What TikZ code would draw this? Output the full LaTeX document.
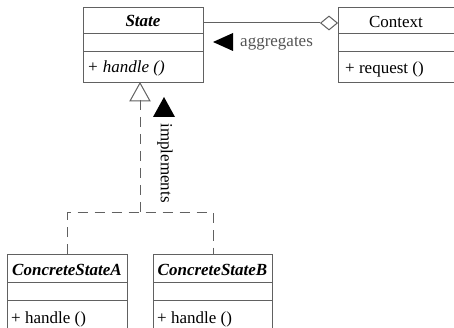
\documentclass[tikz,border=0pt]{standalone}
\usepackage{fontspec}
\setmainfont{Liberation Serif}
\usetikzlibrary{shapes.geometric}
\definecolor{linecol}{gray}{0.38}
\definecolor{labelcol}{gray}{0.33}
\begin{document}
\begin{tikzpicture}[x=1pt,y=-1pt,
  umlfont/.style={font=\fontsize{17}{20}\selectfont},
  classbox/.style={draw=linecol, line width=1pt, anchor=north west, inner sep=0pt,
    minimum width=120pt},
  sepline/.style={draw=linecol, line width=1pt},
  conn/.style={draw=linecol, line width=1pt},
  realize/.style={draw=linecol, line width=1pt, dash pattern=on 10pt off 7pt},
  title/.style={umlfont, anchor=base, inner sep=0pt},
  member/.style={umlfont, anchor=base west, inner sep=0pt},
  arrowtri/.style={fill=black, draw=none}
]
\useasboundingbox (0,0) rectangle (454,328);
\clip (0,0) rectangle (454,328);

% class boxes
\node[classbox, minimum height=75pt] (state) at (83,7) {};
\node[classbox, minimum height=75pt] (context) at (338,7) {};
\node[classbox, minimum height=90pt] (csa) at (7,254) {};
\node[classbox, minimum height=90pt, minimum width=119pt] (csb) at (153,254) {};

% compartment separators
\foreach \b in {state,context} {
  \draw[sepline] (\b.west |- 0,34) -- (\b.east |- 0,34);
  \draw[sepline] (\b.west |- 0,52) -- (\b.east |- 0,52);
}
\foreach \b in {csa,csb} {
  \draw[sepline] (\b.west |- 0,282) -- (\b.east |- 0,282);
  \draw[sepline] (\b.west |- 0,300) -- (\b.east |- 0,300);
}

% class names and operations
\node[title] (stateName) at (143,27) {\textbf{\textit{State}}};
\node[member] (stateOp) at (87,73) {\textit{+ handle ()}};
\node[title] (contextName) at (396,28) {Context};
\node[member] (contextOp) at (345,74) {+ request ()};
\node[title] (csaName) at (67,275) {\textbf{\textit{ConcreteStateA}}};
\node[member] (csaOp) at (11,323) {+ handle ()};
\node[title] (csbName) at (212.5,275) {\textbf{\textit{ConcreteStateB}}};
\node[member] (csbOp) at (157,323) {+ handle ()};

% aggregation: State -- Context with hollow diamond
\node[diamond, draw=linecol, line width=1pt, fill=white, inner sep=0pt,
  minimum width=17pt, minimum height=14pt, anchor=east] (diam) at (context.west |- 0,23) {};
\draw[conn] (state.east |- diam.west) -- (diam.west);
\fill[arrowtri] (213,42) -- (233,33) -- (233,51) -- cycle;
\node[umlfont, text=labelcol, anchor=base west, inner sep=0pt] (aggLabel) at (240,47) {aggregates};

% realization: concrete states implement State
\coordinate (genBase) at (140,100);
\coordinate (junction) at (140,213);
\draw[conn, fill=white] (state.south -| genBase) -- ++(10,18) -- ++(-20,0) -- cycle;
\draw[realize] (genBase) -- (junction);
\draw[realize] (csa.north) -- (csa.north |- junction) -- (csb.north |- junction) -- (csb.north);
\fill[arrowtri] (164,97) -- (175,117) -- (153,117) -- cycle;
\node[umlfont, rotate=-90, inner sep=0pt] (implLabel) at (165,163) {implements};
\end{tikzpicture}
\end{document}
